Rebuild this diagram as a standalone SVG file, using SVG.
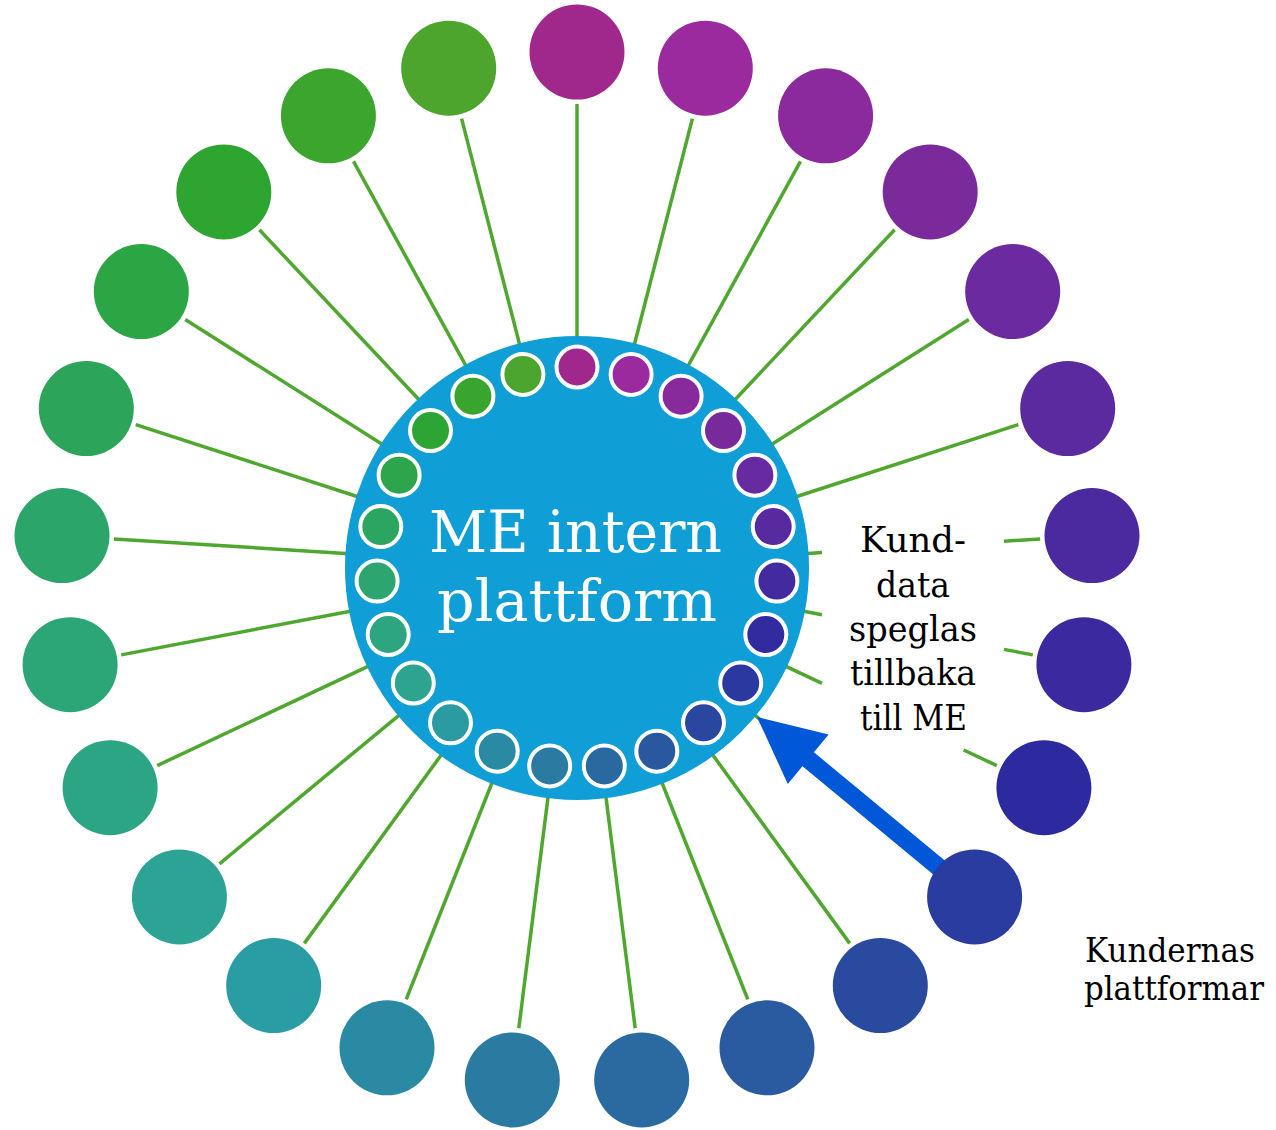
<svg xmlns="http://www.w3.org/2000/svg" width="1276" height="1130" viewBox="0 0 1276 1130">
<style>
.ln{stroke:#4fa72f;stroke-width:3.5;fill:none}
.arrow{fill:#0057d8;stroke:none}
.shaft{stroke:#0057d8;stroke-width:18;fill:none}
.hub{fill:#0f9ed5}
.in{stroke:#ffffff;stroke-width:4}
.t{font-family:"DejaVu Serif","Liberation Serif",serif}
.hubtxt{fill:#ffffff;font-size:57px}
.lbl{fill:#000000;font-size:36px}
.lbl2{fill:#000000;font-size:33px}
</style>
<rect width="1276" height="1130" fill="#ffffff"/>
<g id="connectors">
<line class="ln" x1="577" y1="104" x2="577" y2="340"/>
<line class="ln" x1="692.4" y1="118.6" x2="633.7" y2="347.2"/>
<line class="ln" x1="800.5" y1="161.4" x2="686.8" y2="368.2"/>
<line class="ln" x1="894.6" y1="229.8" x2="733.1" y2="401.8"/>
<line class="ln" x1="968.8" y1="319.4" x2="769.5" y2="445.8"/>
<line class="ln" x1="1018.3" y1="424.6" x2="793.8" y2="497.5"/>
<line class="ln" x1="1040.1" y1="538.9" x2="1004" y2="541.2"/>
<line class="ln" x1="822" y1="552.6" x2="804.6" y2="553.7"/>
<line class="ln" x1="1032.8" y1="654.9" x2="1004" y2="649.4"/>
<line class="ln" x1="822" y1="614.7" x2="801" y2="610.7"/>
<line class="ln" x1="996.8" y1="765.6" x2="963.7" y2="750"/>
<line class="ln" x1="822" y1="683.3" x2="783.3" y2="665.1"/>
<line class="ln" x1="934.5" y1="863.8" x2="752.7" y2="713.3"/>
<line class="ln" x1="849.7" y1="943.4" x2="711" y2="752.5"/>
<line class="ln" x1="747.8" y1="999.4" x2="660.9" y2="780"/>
<line class="ln" x1="635.2" y1="1028.3" x2="605.6" y2="794.2"/>
<line class="ln" x1="518.8" y1="1028.3" x2="548.4" y2="794.2"/>
<line class="ln" x1="406.2" y1="999.4" x2="493.1" y2="780"/>
<line class="ln" x1="304.3" y1="943.4" x2="443" y2="752.5"/>
<line class="ln" x1="219.5" y1="863.8" x2="401.3" y2="713.3"/>
<line class="ln" x1="157.2" y1="765.6" x2="370.7" y2="665.1"/>
<line class="ln" x1="121.2" y1="654.9" x2="353" y2="610.7"/>
<line class="ln" x1="113.9" y1="538.9" x2="349.4" y2="553.7"/>
<line class="ln" x1="135.7" y1="424.6" x2="360.2" y2="497.5"/>
<line class="ln" x1="185.2" y1="319.4" x2="384.5" y2="445.8"/>
<line class="ln" x1="259.4" y1="229.8" x2="420.9" y2="401.8"/>
<line class="ln" x1="353.5" y1="161.4" x2="467.2" y2="368.2"/>
<line class="ln" x1="461.6" y1="118.6" x2="520.3" y2="347.2"/>
<g id="arrow-kunddata">
<line class="shaft" x1="962.3" y1="886.7" x2="800.4" y2="752.8"/>
<polygon class="arrow" points="757,717 828.6,734.5 787.8,783.9"/>
</g>
</g>
<g id="hub">
<circle class="hub" cx="577" cy="568" r="232"/>
<circle class="in" cx="577" cy="367" r="20.5" fill="#a0288c"/>
<circle class="in" cx="631.1" cy="374.4" r="20.5" fill="#9a2a9e"/>
<circle class="in" cx="681.1" cy="396.2" r="20.5" fill="#892a9c"/>
<circle class="in" cx="723.5" cy="430.6" r="20.5" fill="#782a9d"/>
<circle class="in" cx="754.9" cy="475.2" r="20.5" fill="#672aa0"/>
<circle class="in" cx="773.2" cy="526.6" r="20.5" fill="#572a9f"/>
<circle class="in" cx="776.9" cy="581.1" r="20.5" fill="#432a9f"/>
<circle class="in" cx="765.8" cy="634.5" r="20.5" fill="#322a9f"/>
<circle class="in" cx="740.7" cy="683" r="20.5" fill="#2a389f"/>
<circle class="in" cx="703.5" cy="722.8" r="20.5" fill="#2a479f"/>
<circle class="in" cx="656.8" cy="751.2" r="20.5" fill="#2a589f"/>
<circle class="in" cx="604.3" cy="765.9" r="20.5" fill="#2a69a0"/>
<circle class="in" cx="549.7" cy="765.9" r="20.5" fill="#2a7aa2"/>
<circle class="in" cx="497.2" cy="751.2" r="20.5" fill="#2a8aa3"/>
<circle class="in" cx="450.5" cy="722.8" r="20.5" fill="#2a9ca1"/>
<circle class="in" cx="413.3" cy="683" r="20.5" fill="#2ca490"/>
<circle class="in" cx="388.2" cy="634.5" r="20.5" fill="#2ca580"/>
<circle class="in" cx="377.1" cy="581.1" r="20.5" fill="#2ca571"/>
<circle class="in" cx="380.8" cy="526.6" r="20.5" fill="#2ca561"/>
<circle class="in" cx="399.1" cy="475.2" r="20.5" fill="#2ca54c"/>
<circle class="in" cx="430.5" cy="430.6" r="20.5" fill="#2da534"/>
<circle class="in" cx="472.9" cy="396.2" r="20.5" fill="#3aa52e"/>
<circle class="in" cx="522.9" cy="374.4" r="20.5" fill="#4ca52e"/>
<text class="t hubtxt"><tspan x="429" y="552" textLength="293" lengthAdjust="spacingAndGlyphs">ME intern</tspan><tspan x="437" y="621" textLength="280" lengthAdjust="spacingAndGlyphs">plattform</tspan></text>
</g>
<g id="p0"><circle cx="577" cy="52" r="47.5" fill="#a0288c"/></g>
<g id="p1"><circle cx="705.3" cy="68.2" r="47.5" fill="#9b2a9e"/></g>
<g id="p2"><circle cx="825.6" cy="115.8" r="47.5" fill="#8b2a9c"/></g>
<g id="p3"><circle cx="930.2" cy="191.9" r="47.5" fill="#7b2a9c"/></g>
<g id="p4"><circle cx="1012.7" cy="291.5" r="47.5" fill="#6b2aa0"/></g>
<g id="p5"><circle cx="1067.7" cy="408.5" r="47.5" fill="#5b2a9f"/></g>
<g id="p6"><circle cx="1092" cy="535.6" r="47.5" fill="#4b2a9f"/></g>
<g id="p7"><circle cx="1083.9" cy="664.7" r="47.5" fill="#3b2a9f"/></g>
<g id="p8"><circle cx="1043.9" cy="787.7" r="47.5" fill="#2d2aa0"/></g>
<g id="p9"><circle cx="974.6" cy="896.9" r="47.5" fill="#2a3c9f"/></g>
<g id="p10"><circle cx="880.3" cy="985.5" r="47.5" fill="#2a4a9f"/></g>
<g id="p11"><circle cx="767" cy="1047.8" r="47.5" fill="#2a5a9f"/></g>
<g id="p12"><circle cx="641.7" cy="1079.9" r="47.5" fill="#2a6aa0"/></g>
<g id="p13"><circle cx="512.3" cy="1079.9" r="47.5" fill="#2a7aa2"/></g>
<g id="p14"><circle cx="387" cy="1047.8" r="47.5" fill="#2a8aa3"/></g>
<g id="p15"><circle cx="273.7" cy="985.5" r="47.5" fill="#2a9ca3"/></g>
<g id="p16"><circle cx="179.4" cy="896.9" r="47.5" fill="#2ca394"/></g>
<g id="p17"><circle cx="110.1" cy="787.7" r="47.5" fill="#2ca585"/></g>
<g id="p18"><circle cx="70.1" cy="664.7" r="47.5" fill="#2ca577"/></g>
<g id="p19"><circle cx="62" cy="535.6" r="47.5" fill="#2ca56a"/></g>
<g id="p20"><circle cx="86.3" cy="408.5" r="47.5" fill="#2ca55a"/></g>
<g id="p21"><circle cx="141.3" cy="291.5" r="47.5" fill="#2ca545"/></g>
<g id="p22"><circle cx="223.8" cy="191.9" r="47.5" fill="#2ea530"/></g>
<g id="p23"><circle cx="328.4" cy="115.8" r="47.5" fill="#3ca52e"/></g>
<g id="p24"><circle cx="448.7" cy="68.2" r="47.5" fill="#4ea52e"/></g>
<g id="label-kunddata">
<text class="t lbl"><tspan x="860" y="552" textLength="106" lengthAdjust="spacingAndGlyphs">Kund-</tspan><tspan x="876" y="597" textLength="74" lengthAdjust="spacingAndGlyphs">data</tspan><tspan x="849" y="641" textLength="128" lengthAdjust="spacingAndGlyphs">speglas</tspan><tspan x="850" y="685" textLength="126" lengthAdjust="spacingAndGlyphs">tillbaka</tspan><tspan x="860" y="730" textLength="107" lengthAdjust="spacingAndGlyphs">till ME</tspan></text>
</g>
<g id="label-kundernas">
<text class="t lbl2"><tspan x="1085" y="962" textLength="170" lengthAdjust="spacingAndGlyphs">Kundernas</tspan><tspan x="1084" y="1000" textLength="180" lengthAdjust="spacingAndGlyphs">plattformar</tspan></text>
</g>
</svg>
